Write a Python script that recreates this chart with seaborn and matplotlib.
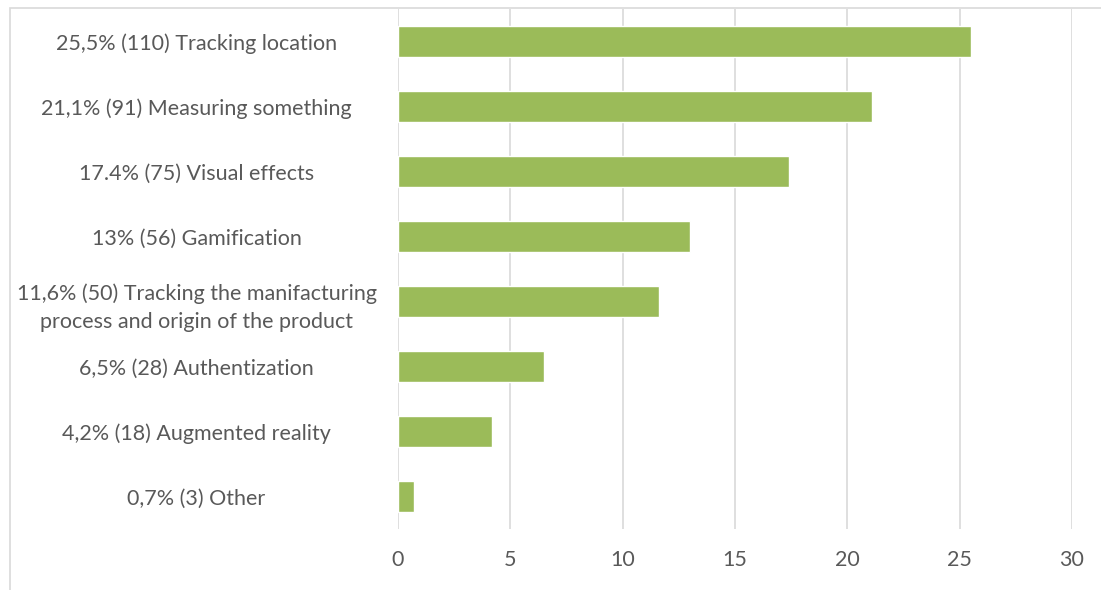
import matplotlib
matplotlib.use("Agg")
import matplotlib.pyplot as plt
import seaborn as sns
import pandas as pd
from matplotlib.patches import Rectangle

categories = [
    "25,5% (110) Tracking location",
    "21,1% (91) Measuring something",
    "17.4% (75) Visual effects",
    "13% (56) Gamification",
    "11,6% (50) Tracking the manifacturing\nprocess and origin of the product",
    "6,5% (28) Authentization",
    "4,2% (18) Augmented reality",
    "0,7% (3) Other",
]
values = [25.5, 21.1, 17.4, 13.0, 11.6, 6.5, 4.2, 0.7]
x_ticks = [0, 5, 10, 15, 20, 25, 30]

df = pd.DataFrame({"category": categories, "value": values})

sns.set_theme(style="white")
plt.rcParams["font.family"] = ["Lato", "DejaVu Sans"]

fig = plt.figure(figsize=(11.01, 5.90), dpi=100)
ax = fig.add_axes([398 / 1101, 1 - 529 / 590, (1072 - 398) / 1101, (529 - 9) / 590])

sns.barplot(data=df, x="value", y="category", color="#9BBB59", width=0.49,
            saturation=1, ax=ax, orient="h")

ax.set_xlim(0, 30)
ax.set_xticks(x_ticks)
ax.set_xticklabels([str(t) for t in x_ticks])
ax.grid(axis="x", color="#D9D9D9", linewidth=1.2)
ax.set_axisbelow(True)
for s in ax.spines.values():
    s.set_visible(False)
ax.set_xlabel("")
ax.set_ylabel("")
ax.tick_params(axis="x", length=0, pad=15, labelsize=15.5, labelcolor="#595959")
ax.tick_params(axis="y", length=0, pad=145, labelsize=15.5, labelcolor="#595959")
for lab in ax.get_yticklabels():
    lab.set_horizontalalignment("center")
    lab.set_multialignment("center")
    lab.set_linespacing(1.5)

fig.add_artist(Rectangle((10 / 1101, -0.05), 1.2, 1 - 8 / 590 + 0.05,
                         transform=fig.transFigure, fill=False,
                         edgecolor="#D9D9D9", linewidth=1.2))

fig.savefig("out.png", dpi=100, facecolor="white")
